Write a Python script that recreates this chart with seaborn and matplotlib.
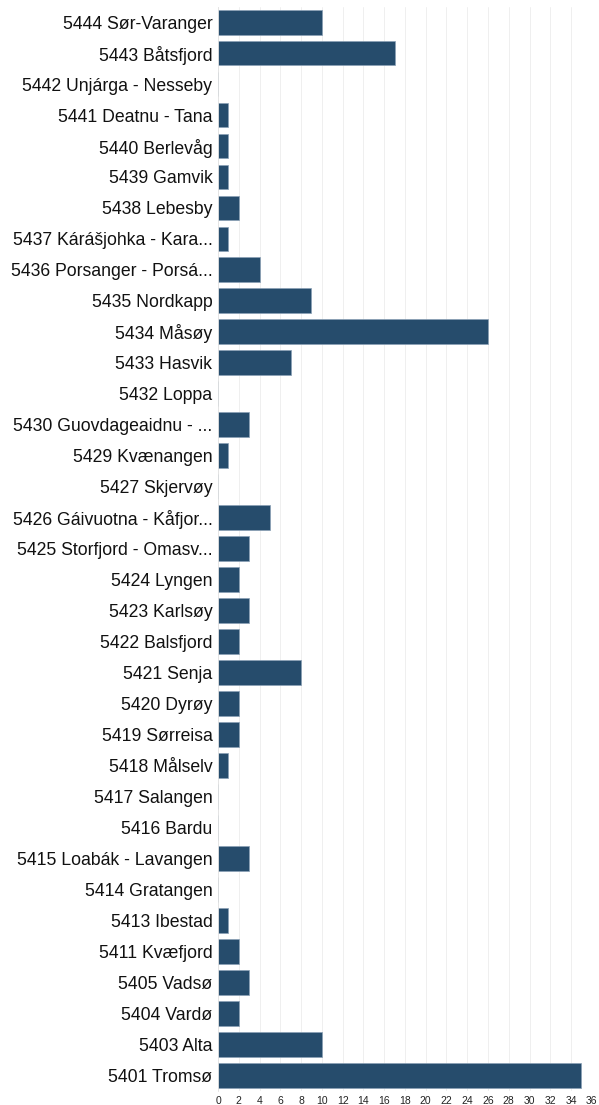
import matplotlib
matplotlib.use('Agg')
import pandas as pd
import matplotlib.pyplot as plt
import seaborn as sns

KOMMUNER = [
    '5444 Sør-Varanger', '5443 Båtsfjord', '5442 Unjárga - Nesseby',
    '5441 Deatnu - Tana', '5440 Berlevåg', '5439 Gamvik', '5438 Lebesby',
    '5437 Kárášjohka - Kara...', '5436 Porsanger - Porsá...', '5435 Nordkapp',
    '5434 Måsøy', '5433 Hasvik', '5432 Loppa', '5430 Guovdageaidnu - ...',
    '5429 Kvænangen', '5427 Skjervøy', '5426 Gáivuotna - Kåfjor...',
    '5425 Storfjord - Omasv...', '5424 Lyngen', '5423 Karlsøy', '5422 Balsfjord',
    '5421 Senja', '5420 Dyrøy', '5419 Sørreisa', '5418 Målselv', '5417 Salangen',
    '5416 Bardu', '5415 Loabák - Lavangen', '5414 Gratangen', '5413 Ibestad',
    '5411 Kvæfjord', '5405 Vadsø', '5404 Vardø', '5403 Alta', '5401 Tromsø',
]
ANTALL = [10, 17, 0, 1, 1, 1, 2, 1, 4, 9, 26, 7, 0, 3, 1, 0, 5, 3, 2, 3, 2,
          8, 2, 2, 1, 0, 0, 3, 0, 1, 2, 3, 2, 10, 35]
X_TICKS = list(range(0, 37, 2))

sns.set_theme(style='white')
plt.rcParams['font.family'] = ['Liberation Sans', 'DejaVu Sans']

df = pd.DataFrame({'Kommune': KOMMUNER, 'Antall': ANTALL})

fig = plt.figure(figsize=(5.99, 11.05), dpi=100)
ax = fig.add_axes([0.364, 0.013, 0.624, 0.981])
sns.barplot(data=df, y='Kommune', x='Antall', color='#264c6c', orient='h',
            width=0.8, edgecolor='#8aa0b5', linewidth=0.5, saturation=1, ax=ax)

ax.set_xlim(0, 36)
ax.set_xticks(X_TICKS)
ax.set_xticklabels([str(t) for t in X_TICKS], fontsize=7.5, color='#222222')
ax.tick_params(axis='y', labelsize=12.7, colors='#111111', length=0, pad=4)
ax.tick_params(axis='x', length=0, pad=4)
ax.xaxis.grid(True, color='#ececec', linewidth=0.6)
ax.set_axisbelow(True)
ax.set_xlabel('')
ax.set_ylabel('')
for side in ['top', 'right', 'bottom']:
    ax.spines[side].set_visible(False)
ax.spines['left'].set_color('#e2e2e2')
ax.spines['left'].set_linewidth(0.6)

fig.savefig('out.png', dpi=100)
